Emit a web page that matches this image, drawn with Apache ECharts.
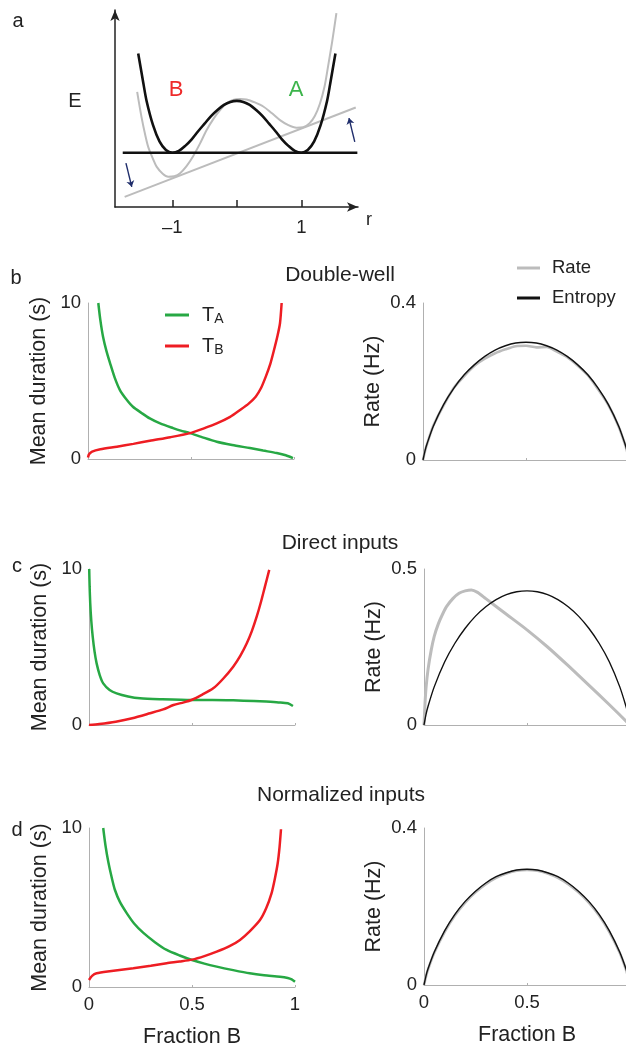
<!DOCTYPE html>
<html>
<head>
<meta charset="utf-8">
<script src="https://cdn.jsdelivr.net/npm/echarts@6/dist/echarts.min.js"></script>
<style>html,body{margin:0;padding:0;background:#fff}#c{width:626px;height:1051px}</style>
</head>
<body>
<div id="c"></div>
<script>
// ---------- Panel a: energy landscape (r, E) ----------
const aBlackR = [-1.53,-1.45,-1.4,-1.3,-1.2,-1.1,-1.0,-0.9,-0.8,-0.7,-0.6,-0.5,-0.4,-0.3,-0.2,-0.1,0,0.1,0.2,0.3,0.4,0.5,0.6,0.7,0.8,0.9,1.0,1.1,1.2,1.3,1.4,1.45,1.53];
const aBlackE = [3.04,2.45,2.1,1.62,1.3,1.13,1.075,1.11,1.21,1.34,1.5,1.65,1.8,1.92,2.02,2.08,2.1,2.08,2.02,1.92,1.8,1.65,1.5,1.34,1.21,1.11,1.075,1.13,1.3,1.62,2.1,2.45,3.04];
const aGrayR = [-1.546,-1.48,-1.42,-1.375,-1.3,-1.245,-1.15,-1.065,-0.97,-0.88,-0.78,-0.68,-0.57,-0.47,-0.36,-0.26,-0.16,-0.06,0.05,0.15,0.28,0.41,0.54,0.67,0.8,0.925,1.03,1.13,1.21,1.29,1.36,1.415,1.48,1.545];
const aGrayE = [2.28,1.79,1.42,1.19,0.95,0.8,0.66,0.6,0.61,0.67,0.81,1.0,1.26,1.52,1.75,1.92,2.05,2.12,2.14,2.13,2.07,1.99,1.86,1.72,1.62,1.57,1.58,1.66,1.8,2.05,2.38,2.78,3.28,3.84];
const aFlatR = [-1.77, 1.87];
const aFlatE = [1.075, 1.075];
const aTiltR = [-1.74, 1.845];
const aTiltE = [0.2, 1.97];
const aArrowDown = [[-1.72, 0.87], [-1.63, 0.40]];
const aArrowUp = [[1.83, 1.29], [1.74, 1.76]];
const aTicks = [-1, 0, 1];
const aTickLabels = [-1, 1];

// ---------- Left panels: mean duration (s) vs fraction B ----------
const bTA = [[0.05,10],[0.06,8.9],[0.073,7.84],[0.09,6.9],[0.107,6.15],[0.13,5.2],[0.155,4.42],[0.185,3.85],[0.218,3.35],[0.26,2.95],[0.3,2.6],[0.35,2.28],[0.413,1.98],[0.45,1.82],[0.495,1.66],[0.55,1.42],[0.625,1.11],[0.7,0.9],[0.786,0.7],[0.85,0.54],[0.916,0.38],[0.96,0.24],[0.995,0.06]];
const bTB = [[0,0.1],[0.005,0.3],[0.02,0.47],[0.06,0.62],[0.14,0.79],[0.22,0.97],[0.3,1.17],[0.4,1.4],[0.495,1.66],[0.56,1.95],[0.625,2.28],[0.69,2.7],[0.738,3.14],[0.78,3.55],[0.814,3.99],[0.84,4.55],[0.863,5.28],[0.885,6.1],[0.903,6.99],[0.92,7.9],[0.932,8.7],[0.94,10]];
const cTA = [[0.001,10],[0.003,8.9],[0.006,7.8],[0.011,6.7],[0.018,5.66],[0.027,4.7],[0.037,3.95],[0.052,3.2],[0.069,2.67],[0.1,2.25],[0.134,2.03],[0.19,1.83],[0.248,1.71],[0.35,1.65],[0.5,1.6],[0.6,1.6],[0.7,1.58],[0.8,1.54],[0.86,1.5],[0.92,1.45],[0.965,1.39],[0.99,1.22]];
const cTB = [[0,0],[0.05,0.06],[0.13,0.21],[0.21,0.43],[0.296,0.75],[0.36,1.0],[0.41,1.28],[0.46,1.45],[0.5,1.62],[0.55,1.95],[0.603,2.35],[0.65,2.95],[0.7,3.74],[0.735,4.45],[0.766,5.24],[0.79,6.0],[0.814,6.94],[0.835,7.9],[0.854,8.87],[0.875,9.94]];
const dTA = [[0.069,10],[0.08,8.9],[0.094,7.84],[0.11,6.9],[0.126,6.1],[0.15,5.35],[0.183,4.65],[0.22,3.98],[0.264,3.4],[0.32,2.82],[0.377,2.33],[0.44,1.98],[0.5,1.7],[0.56,1.47],[0.62,1.28],[0.7,1.06],[0.78,0.86],[0.85,0.74],[0.927,0.65],[0.965,0.57],[0.984,0.48],[1.0,0.33]];
const dTB = [[0,0.44],[0.015,0.7],[0.037,0.86],[0.1,0.99],[0.215,1.18],[0.3,1.33],[0.377,1.49],[0.44,1.6],[0.5,1.72],[0.56,1.94],[0.62,2.22],[0.68,2.55],[0.733,2.96],[0.78,3.5],[0.83,4.21],[0.86,4.95],[0.886,5.89],[0.902,6.8],[0.916,7.78],[0.925,8.8],[0.932,9.92]];

// ---------- Right panels: rate (Hz) vs fraction B ----------
const rX = [0,0.01,0.02,0.05,0.1,0.15,0.2,0.25,0.3,0.35,0.4,0.45,0.5,0.55,0.6,0.65,0.7,0.75,0.8,0.85,0.9,0.95,0.98,0.99,1];
const bEntropy = [0,0.024,0.042,0.086,0.141,0.183,0.217,0.243,0.264,0.280,0.291,0.298,0.300,0.298,0.291,0.280,0.264,0.243,0.217,0.183,0.141,0.086,0.042,0.024,0];
const bRate = [0,0.023,0.041,0.087,0.139,0.184,0.214,0.24,0.258,0.272,0.282,0.29,0.291,0.287,0.288,0.276,0.262,0.241,0.216,0.18,0.14,0.085,0.041,0.023,0];
const cEntropy = [0,0.035,0.061,0.123,0.202,0.262,0.310,0.349,0.379,0.402,0.418,0.427,0.430,0.427,0.418,0.402,0.379,0.349,0.310,0.262,0.202,0.123,0.061,0.035,0];
const cRateX = [0,0.005,0.01,0.02,0.035,0.05,0.07,0.09,0.11,0.14,0.17,0.2,0.23,0.26,0.3,0.4,0.5,0.6,0.7,0.8,0.9,1];
const cRate = [0,0.07,0.12,0.18,0.24,0.285,0.325,0.355,0.38,0.405,0.422,0.43,0.433,0.425,0.405,0.355,0.305,0.25,0.19,0.128,0.065,0];
const dEntropy = [0,0.024,0.042,0.084,0.138,0.180,0.213,0.239,0.260,0.276,0.286,0.293,0.295,0.293,0.286,0.276,0.260,0.239,0.213,0.180,0.138,0.084,0.042,0.024,0];
const dRate = [0,0.022,0.04,0.082,0.135,0.177,0.21,0.236,0.257,0.273,0.284,0.291,0.293,0.291,0.284,0.273,0.257,0.236,0.21,0.177,0.135,0.082,0.04,0.022,0];

const panelTitles = ['Double-well', 'Direct inputs', 'Normalized inputs'];
const panelLetters = ['a', 'b', 'c', 'd'];

// ---------- styling ----------
const FONT = '"Liberation Sans", Arial, Helvetica, sans-serif';
const TXT = '#222';
const GREEN = '#27a844';
const RED = '#ee1d23';
const GRAY = '#bcbcbc';
const BLACK = '#111';
const AXG = '#b0b0b0';
const NAME_FS = 21.5;
const TICK_FS = 18.5;

const zip = (xs, ys) => xs.map((x, i) => [x, ys[i]]);

const grids = [
  {left: 115, top: 10, width: 243, height: 197},   // a
  {left: 88, top: 303, width: 206, height: 156},   // b left
  {left: 423, top: 303, width: 206, height: 157},  // b right
  {left: 89, top: 569, width: 206, height: 156},   // c left
  {left: 424, top: 569, width: 206, height: 156},  // c right
  {left: 89, top: 828, width: 206, height: 159},   // d left
  {left: 424, top: 828, width: 206, height: 157}   // d right
].map(g => Object.assign({outerBoundsMode: 'none', containLabel: false}, g));

const xAxes = [];
const yAxes = [];

// panel a axes
xAxes.push({
  gridIndex: 0, type: 'value', min: -1.89, max: 1.88,
  axisLine: {show: true, onZero: false, symbol: ['none', 'arrow'], symbolSize: [7, 11], lineStyle: {color: '#222', width: 1.5}},
  axisTick: {show: true, inside: true, length: 7, customValues: aTicks, lineStyle: {color: '#222', width: 1.5}},
  axisLabel: {show: true, customValues: aTickLabels, margin: 11, fontSize: TICK_FS, color: TXT, fontFamily: FONT,
    formatter: v => (v < 0 ? '\u2013' + Math.abs(v) : String(v))},
  splitLine: {show: false}
});
yAxes.push({
  gridIndex: 0, type: 'value', min: 0, max: 3.9,
  axisLine: {show: true, onZero: false, symbol: ['none', 'arrow'], symbolSize: [7, 11], lineStyle: {color: '#222', width: 1.5}},
  axisTick: {show: false}, axisLabel: {show: false}, splitLine: {show: false}
});

function leftAxes(gi, showX) {
  xAxes.push({
    gridIndex: gi, type: 'value', min: 0, max: 1, interval: 0.5,
    axisLine: {show: true, onZero: false, lineStyle: {color: AXG, width: 1}},
    axisTick: {show: true, inside: true, length: 2, lineStyle: {color: AXG}},
    axisLabel: {show: showX, margin: 8, fontSize: TICK_FS, color: TXT, fontFamily: FONT},
    splitLine: {show: false},
    name: showX ? 'Fraction B' : '', nameLocation: 'middle', nameGap: 39,
    nameTextStyle: {fontSize: NAME_FS, color: TXT, fontFamily: FONT}
  });
  yAxes.push({
    gridIndex: gi, type: 'value', min: 0, max: 10, interval: 10,
    axisLine: {show: true, onZero: false, lineStyle: {color: AXG, width: 1}},
    axisTick: {show: false},
    axisLabel: {margin: 7, fontSize: TICK_FS, color: TXT, fontFamily: FONT},
    splitLine: {show: false},
    name: 'Mean duration (s)', nameLocation: 'middle', nameGap: 38,
    nameTextStyle: {fontSize: NAME_FS, color: TXT, fontFamily: FONT}
  });
}
function rightAxes(gi, ymax, showX) {
  xAxes.push({
    gridIndex: gi, type: 'value', min: 0, max: 1, interval: 0.5,
    axisLine: {show: true, onZero: false, lineStyle: {color: AXG, width: 1}},
    axisTick: {show: true, inside: true, length: 2, lineStyle: {color: AXG}},
    axisLabel: {show: showX, margin: 8, fontSize: TICK_FS, color: TXT, fontFamily: FONT,
      formatter: v => (v >= 1 ? '' : String(v))},
    splitLine: {show: false},
    name: showX ? 'Fraction B' : '', nameLocation: 'middle', nameGap: 39,
    nameTextStyle: {fontSize: NAME_FS, color: TXT, fontFamily: FONT}
  });
  yAxes.push({
    gridIndex: gi, type: 'value', min: 0, max: ymax, interval: ymax,
    axisLine: {show: true, onZero: false, lineStyle: {color: AXG, width: 1}},
    axisTick: {show: false},
    axisLabel: {margin: 7, fontSize: TICK_FS, color: TXT, fontFamily: FONT},
    splitLine: {show: false},
    name: 'Rate (Hz)', nameLocation: 'middle', nameGap: 39,
    nameTextStyle: {fontSize: NAME_FS, color: TXT, fontFamily: FONT}
  });
}
leftAxes(1, false); rightAxes(2, 0.4, false);
leftAxes(3, false); rightAxes(4, 0.5, false);
leftAxes(5, true);  rightAxes(6, 0.4, true);

function line(name, idx, data, color, width, z, smooth) {
  return {
    name: name, type: 'line', xAxisIndex: idx, yAxisIndex: idx, data: data,
    symbol: 'none', showSymbol: false, smooth: smooth === undefined ? 0.25 : smooth,
    lineStyle: {color: color, width: width}, itemStyle: {color: color},
    z: z, silent: true, animation: false, clip: true
  };
}

const series = [
  line('tilt', 0, zip(aTiltR, aTiltE), GRAY, 2, 2, false),
  line('gray', 0, zip(aGrayR, aGrayE), GRAY, 2, 2, 0.3),
  line('flat', 0, zip(aFlatR, aFlatE), BLACK, 2.6, 3, false),
  line('black', 0, zip(aBlackR, aBlackE), BLACK, 2.6, 3, 0.3),
  {
    type: 'lines', coordinateSystem: 'cartesian2d', xAxisIndex: 0, yAxisIndex: 0,
    data: [{coords: aArrowDown}, {coords: aArrowUp}],
    symbol: ['none', 'arrow'], symbolSize: 6,
    lineStyle: {color: '#1f2d6b', width: 1.4, opacity: 1}, silent: true, animation: false, z: 4
  },
  line('TA', 1, bTA, GREEN, 2.5, 3),
  line('TB', 1, bTB, RED, 2.5, 3),
  line('Rate', 2, zip(rX, bRate), GRAY, 2.6, 2),
  line('Entropy', 2, zip(rX, bEntropy), BLACK, 1.4, 3),
  line('TA', 3, cTA, GREEN, 2.5, 3),
  line('TB', 3, cTB, RED, 2.5, 3),
  line('Rate', 4, zip(cRateX, cRate), GRAY, 3, 2),
  line('Entropy', 4, zip(rX, cEntropy), BLACK, 1.4, 3),
  line('TA', 5, dTA, GREEN, 2.5, 3),
  line('TB', 5, dTB, RED, 2.5, 3),
  line('Rate', 6, zip(rX, dRate), GRAY, 2.6, 2),
  line('Entropy', 6, zip(rX, dEntropy), BLACK, 1.4, 3)
];

function txt(s, x, y, size, color, align) {
  return {type: 'text', x: x, y: y, silent: true,
    style: {text: s, fill: color || TXT, font: size + 'px ' + FONT, align: align || 'center', verticalAlign: 'middle'}};
}

const graphics = [
  txt(panelLetters[0], 18, 21, 20),
  txt(panelLetters[1], 16, 278, 20),
  txt(panelLetters[2], 17, 566, 20),
  txt(panelLetters[3], 17, 830, 20),
  txt(panelTitles[0], 340, 275, 21),
  txt(panelTitles[1], 340, 543, 21),
  txt(panelTitles[2], 341, 795, 21),
  txt('E', 75, 101, 20),
  txt('B', 176, 90, 22, '#ee2a2a'),
  txt('A', 296, 90, 22, '#3cb44b'),
  txt('r', 369, 220, 18)
];

const chart = echarts.init(document.getElementById('c'), null, {renderer: 'canvas', width: 626, height: 1051});
chart.setOption({
  animation: false,
  backgroundColor: '#fff',
  textStyle: {fontFamily: FONT},
  grid: grids,
  xAxis: xAxes,
  yAxis: yAxes,
  legend: [
    {
      data: ['TA', 'TB'], orient: 'vertical', left: 165, top: 305, padding: 0,
      icon: 'rect', itemWidth: 24, itemHeight: 3, itemGap: 10, selectedMode: false,
      formatter: n => '{t|T}{s|' + n.slice(1) + '}',
      textStyle: {
        color: TXT, fontFamily: FONT,
        rich: {
          t: {fontSize: 20, lineHeight: 20, color: TXT, fontFamily: FONT, padding: [0, 0, 0, 8], verticalAlign: 'bottom'},
          s: {fontSize: 14, lineHeight: 20, color: TXT, fontFamily: FONT, verticalAlign: 'bottom', padding: [0, 0, -1, 0]}
        }
      }
    },
    {
      data: ['Rate', 'Entropy'], orient: 'vertical', left: 517, top: 258, padding: 0,
      icon: 'rect', itemWidth: 23, itemHeight: 3, itemGap: 10, selectedMode: false,
      textStyle: {fontSize: 18.5, lineHeight: 20, color: TXT, fontFamily: FONT, padding: [0, 0, 0, 7]}
    }
  ],
  series: series,
  graphic: graphics
});
</script>
</body>
</html>
